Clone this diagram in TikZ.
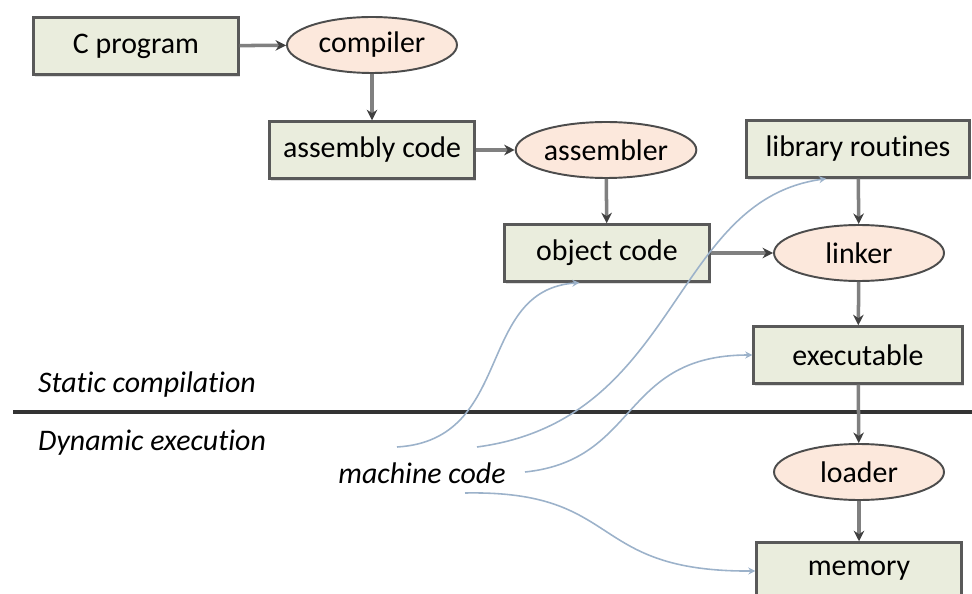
\documentclass[tikz,border=0pt]{standalone}
\usepackage{fontspec}
\setmainfont{Carlito}[Ligatures=NoCommon]
\usetikzlibrary{arrows.meta,shapes.geometric,shadows}

\definecolor{boxfill}{HTML}{EAEDDD}
\definecolor{ovalfill}{HTML}{FCE8DC}
\definecolor{linkgray}{HTML}{808080}
\definecolor{tagblue}{HTML}{9CB2CA}

\tikzset{
  stage/.style={draw=black!65,line width=1.4pt,fill=boxfill,
    minimum width=4.1cm,minimum height=1.14cm,inner sep=2pt,
    drop shadow={shadow xshift=1pt,shadow yshift=-1.2pt,fill=black!25}},
  tool/.style={ellipse,draw=black!70,line width=1.1pt,fill=ovalfill,
    minimum width=3.4cm,minimum height=1.12cm,inner sep=1pt},
  flow/.style={draw=linkgray,line width=2pt,
    -{Stealth[length=6pt,width=6pt,color=black!75]}},
  tag/.style={draw=tagblue,line width=0.9pt,
    -{Stealth[length=4pt,width=4pt]}},
}

\begin{document}
\begin{tikzpicture}[x=0.02cm,y=-0.02cm,font=\fontsize{17}{20}\selectfont]
  \useasboundingbox (0,0) rectangle (972,594);

  \begin{scope}[every node/.style={stage}]
    \node (cprog) at (136,46)  {C program};
    \node (asm)   at (372,150) {assembly code};
    \node[minimum width=4.46cm] (lib) at (858,149) {library routines};
    \node (obj)   at (607,253) {object code};
    \node[minimum width=4.18cm] (exe) at (858,355) {executable};
    \node (mem)   at (859,571) {memory};
  \end{scope}

  \begin{scope}[every node/.style={tool}]
    \node (compiler)  at (372,45)  {compiler};
    \node (assembler) at (606,150) {assembler};
    \node (linker)    at (859,253) {linker};
    \node (loader)    at (859,472) {loader};
  \end{scope}

  \begin{scope}[every node/.style={anchor=west,font=\fontsize{17}{20}\selectfont\itshape}]
    \node (static)  at (32,385) {Static compilation};
    \node (dynamic) at (32,443) {Dynamic execution};
  \end{scope}
  \node[font=\fontsize{17}{20}\selectfont\itshape] (mcode) at (422,473) {machine code};

  % split between the two phases
  \coordinate (sepL) at (13,412);
  \coordinate (sepR) at (972,412);
  \draw[black!80,line width=2.3pt] (sepL) -- (sepR);

  \begin{scope}[every edge/.style={flow}]
    \path (cprog)     edge (compiler);
    \path (compiler)  edge (asm);
    \path (asm)       edge (assembler);
    \path (assembler) edge (obj);
    \path (lib)       edge (linker);
    \path (obj)       edge (linker);
    \path (linker)    edge (exe);
    \path (exe)       edge (loader);
    \path (loader)    edge (mem);
  \end{scope}

  % machine code pointers
  \coordinate (m1) at (397,447);
  \coordinate (m2) at (477,447);
  \coordinate (m3) at (525,472);
  \coordinate (m4) at (465,493);
  \draw[tag] (m1) .. controls (515,440) and (475,290) .. (obj.227);
  \draw[tag] (m2) .. controls (680,420) and (670,200) .. (lib.223);
  \draw[tag] (m3) .. controls (640,460) and (620,355) .. (exe.west);
  \draw[tag] (m4) .. controls (625,490) and (585,572) .. (mem.west);

\end{tikzpicture}
\end{document}
